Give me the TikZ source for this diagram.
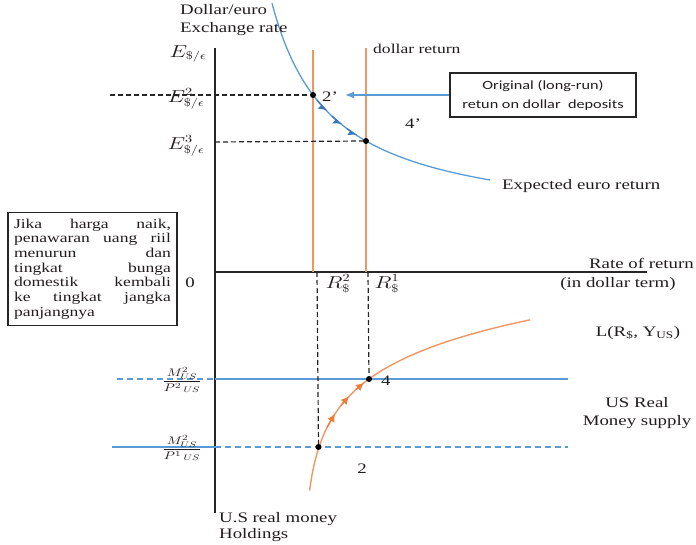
\documentclass[tikz,border=0pt]{standalone}
\usepackage{fontspec}
\usepackage{graphicx}
\setmainfont{Liberation Serif}[FakeStretch=1.3]
\newfontfamily\boxsans{Carlito}[FakeStretch=1.3]
\usetikzlibrary{arrows.meta}

\definecolor{curveblue}{RGB}{91,155,213}
\definecolor{markblue}{RGB}{60,120,190}
\definecolor{lineorange}{RGB}{240,150,100}
\definecolor{markorange}{RGB}{236,125,60}
\definecolor{ink}{RGB}{35,28,28}

% widen math labels to match the stretched text face
\newcommand{\widelabel}[1]{\scalebox{1.3}[1]{#1}}

\begin{document}
\begin{tikzpicture}[x=1pt,y=-1pt,
  font=\fontsize{14.5}{18}\selectfont,
  axis/.style={draw=black!85,line width=1.5pt},
  guide/.style={draw=black!85,line width=1.2pt,dash pattern=on 5pt off 3pt},
  blueline/.style={draw=curveblue,line width=1.3pt},
  bluedash/.style={draw=curveblue,line width=1.3pt,dash pattern=on 6pt off 4pt},
  orangeline/.style={draw=lineorange,line width=1.4pt},
  dot/.style={circle,fill=black,inner sep=0pt,minimum size=6pt},
  lbl/.style={inner sep=0pt,text=ink},
  mathlbl/.style={inner sep=0pt,text=ink,font=\fontsize{16}{18}\selectfont},
  boxed/.style={draw=black!85,line width=1.3pt}]

\useasboundingbox (0,0) rectangle (696,545);

% axes
\coordinate (ytop) at (215,48);
\coordinate (ybot) at (215,513);
\coordinate (origin) at (215,272);
\coordinate (xend) at (647,272);
\draw[axis] (ytop) -- (ybot);
\draw[axis] (origin) -- (xend);

% dollar returns (vertical)
\coordinate (r2top) at (313,50);
\coordinate (r2) at (313,272);
\coordinate (r1top) at (366,48);
\coordinate (r1) at (366,272);
\draw[orangeline] (r2top) -- (r2);
\draw[orangeline] (r1top) -- (r1);

% expected euro return
\draw[blueline] plot[domain=272:490,samples=90] (\x,{228.3-13411/(\x-212.4)});
\foreach \t in {327,342,357}
  \draw[markblue,line width=1.3pt,-{Latex[harpoon,swap,length=7pt,width=11pt]}]
    ({\t-10},{228.3-13411/(\t-10-212.4)}) -- (\t,{228.3-13411/(\t-212.4)});

\node[dot] (p2) at (313,95) {};
\node[dot] (p3) at (366,141) {};

\coordinate (e2start) at (110,95);
\coordinate (e3start) at (215,142);
\draw[guide] (e2start) -- (p2);
\draw[guide] (e3start) -- (p3);

% money market
\draw[orangeline] plot[domain=309.5:530,samples=90] (\x,{579.4-47.85*ln(\x-303.1)});
\foreach \t in {335,349,364}
  \draw[markorange,line width=1.3pt,-{Latex[length=8pt,width=8pt]}]
    ({\t-8},{579.4-47.85*ln(\t-8-303.1)}) -- (\t,{579.4-47.85*ln(\t-303.1)});

\coordinate (m1left) at (117,379);
\coordinate (m1axis) at (215,379);
\coordinate (m1right) at (568,379);
\coordinate (m2left) at (112,447);
\coordinate (m2axis) at (215,447);
\coordinate (m2right) at (568,447);
\draw[bluedash] (m1left) -- (m1axis);
\draw[blueline] (m1axis) -- (m1right);
\draw[blueline] (m2left) -- (m2axis);
\draw[bluedash] (m2axis) -- (m2right);

\node[dot] (q4) at (369,379) {};
\node[dot] (q2) at (318.5,447) {};
\coordinate (d2) at (317,272);
\coordinate (d1) at (368,272);
\draw[guide] (d2) -- (q2);
\draw[guide] (d1) -- (q4);

% labels, upper panel
\node[lbl,anchor=north west,align=left] (title) at (180,4) {Dollar/euro\\Exchange rate};
\node[mathlbl] (ylab) at (188,54) {\widelabel{$E_{\$/\epsilon}$}};
\node[mathlbl] (e2lab) at (186,99) {\widelabel{$E^2_{\$/\epsilon}$}};
\node[mathlbl] (e3lab) at (186,146) {\widelabel{$E^3_{\$/\epsilon}$}};
\node[lbl,anchor=west,font=\fontsize{13.5}{16}\selectfont] (dr) at (373,49) {dollar return};
\node[lbl,anchor=west] (pt2p) at (322,97) {2’};
\node[lbl,anchor=west] (pt4p) at (405,124) {4’};
\node[lbl,anchor=west] (eer) at (502,186) {Expected euro return};
\node[lbl,anchor=east] (ror) at (694,263) {Rate of return};
\node[lbl] (idt) at (618,284) {(in dollar term)};
\node[lbl] (zero) at (190,283) {0};
\node[mathlbl] (r2lab) at (338,284) {\widelabel{$R^2_{\$}$}};
\node[mathlbl] (r1lab) at (387,284) {\widelabel{$R^1_{\$}$}};

\node[boxed,minimum width=186pt,minimum height=44pt,align=center,inner sep=2pt,
      text=ink,font=\boxsans\fontsize{12.5}{19}\selectfont] (orig) at (543,95)
  {Original (long-run)\\retun on dollar\ \ deposits};
\coordinate (origtip) at (345,95);
\draw[blueline,-{Latex[length=9pt,width=7pt]}] (orig.west) -- (origtip);

\node[boxed,text width=157pt,minimum height=108pt,inner sep=6pt,text=ink,align=justify,
      font=\fontsize{13.5}{14.7}\selectfont] (note) at (92.5,269)
  {Jika harga naik,\linebreak penawaran uang riil\linebreak menurun dan\linebreak
   tingkat bunga\linebreak domestik kembali\linebreak ke tingkat jangka\linebreak panjangnya};

% labels, lower panel
\node[lbl] (frac1) at (182,380) {\fontsize{11}{12}\selectfont\widelabel{$\displaystyle\frac{M^2_{US}}{P^{2}\,{}_{US}}$}};
\node[lbl] (frac2) at (182,448) {\fontsize{11}{12}\selectfont\widelabel{$\displaystyle\frac{M^2_{US}}{P^{1}\,{}_{US}}$}};
\node[lbl,anchor=west] (pt4) at (381,381) {4};
\node[lbl] (pt2) at (362,469) {2};
\node[lbl] (liq) at (638,333) {L(R\textsubscript{\$}, Y\textsubscript{US})};
\node[lbl,align=center] (ms) at (637,413) {US Real\\Money supply};
\node[lbl,anchor=north west,align=left,font=\fontsize{14.5}{16}\selectfont] (hold) at (219,512) {U.S real money\\Holdings};

\end{tikzpicture}
\end{document}
